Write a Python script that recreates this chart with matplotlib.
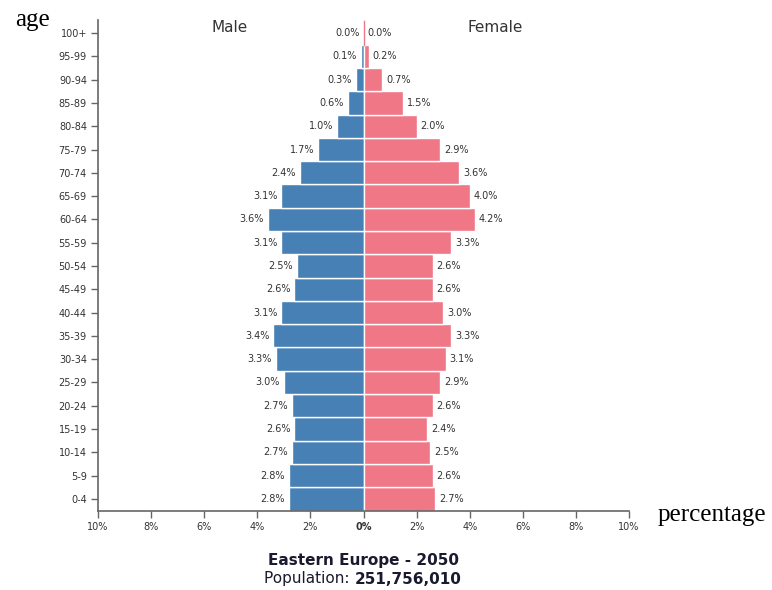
import matplotlib
matplotlib.use("Agg")
import matplotlib.pyplot as plt
import numpy as np

ages = ["0-4", "5-9", "10-14", "15-19", "20-24", "25-29", "30-34", "35-39", "40-44",
        "45-49", "50-54", "55-59", "60-64", "65-69", "70-74", "75-79", "80-84",
        "85-89", "90-94", "95-99", "100+"]
male = [2.8, 2.8, 2.7, 2.6, 2.7, 3.0, 3.3, 3.4, 3.1, 2.6, 2.5, 3.1, 3.6, 3.1, 2.4,
        1.7, 1.0, 0.6, 0.3, 0.1, 0.0]
female = [2.7, 2.6, 2.5, 2.4, 2.6, 2.9, 3.1, 3.3, 3.0, 2.6, 2.6, 3.3, 4.2, 4.0, 3.6,
          2.9, 2.0, 1.5, 0.7, 0.2, 0.0]
xticks = [-10, -8, -6, -4, -2, 0, 2, 4, 6, 8, 10]

blue = "#4680b5"
pink = "#ef7786"
txt = "#333333"

fig = plt.figure(figsize=(7.72, 5.9), dpi=100)
ax = fig.add_axes([98/772, 79/590, (629-98)/772, (511-20)/590])

y = np.arange(len(ages))
ax.barh(y, [-m for m in male], height=1.0, color=blue, edgecolor="white", linewidth=1.0)
ax.barh(y, female, height=1.0, color=pink, edgecolor="white", linewidth=1.0)
ax.plot([0, 0], [19.5, 20.5], color=pink, lw=1.0)

for yi, m, f in zip(y, male, female):
    ax.text(-m - 0.15, yi, f"{m:.1f}%", ha="right", va="center", fontsize=7, color=txt)
    ax.text(f + 0.15, yi, f"{f:.1f}%", ha="left", va="center", fontsize=7, color=txt)

ax.set_xlim(-10, 10)
ax.set_ylim(-0.52, 20.56)
ax.set_yticks(y)
ax.set_yticklabels(ages, fontsize=7, color=txt)
ax.set_xticks(xticks)
ax.set_xticklabels([f"{abs(v)}%" for v in xticks], fontsize=7, color=txt)
for lab in ax.get_xticklabels():
    if lab.get_text() == "0%":
        lab.set_fontweight("bold")
ax.tick_params(axis="both", length=5, width=1, color="#666666", pad=3)
for s in ["top", "right"]:
    ax.spines[s].set_visible(False)
for s in ["left", "bottom"]:
    ax.spines[s].set_color("#666666")
    ax.spines[s].set_linewidth(1.2)

fig.text(230/772, 1 - 28/590, "Male", ha="center", va="center", fontsize=11, color=txt)
fig.text(495/772, 1 - 28/590, "Female", ha="center", va="center", fontsize=11, color=txt)
fig.text(32/772, 1 - 20/590, "age", ha="center", va="center", fontsize=18,
         family="Liberation Serif", color="black")
fig.text(712/772, 1 - 515/590, "percentage", ha="center", va="center", fontsize=18,
         family="Liberation Serif", color="black")
fig.text(363/772, 1 - 561/590, "Eastern Europe - 2050", ha="center", va="center",
         fontsize=11, fontweight="bold", color="#1a1a2e")

# Population line: normal prefix + bold number, centred together
renderer = fig.canvas.get_renderer()
t1 = fig.text(0, 1 - 579/590, "Population: ", ha="left", va="center", fontsize=11, color="#1a1a2e")
t2 = fig.text(0, 1 - 579/590, "251,756,010", ha="left", va="center", fontsize=11,
              fontweight="bold", color="#1a1a2e")
w1 = t1.get_window_extent(renderer).width / 772
w2 = t2.get_window_extent(renderer).width / 772
x0 = 363/772 - (w1 + w2) / 2
t1.set_x(x0)
t2.set_x(x0 + w1)

fig.savefig("out.png", dpi=100)
